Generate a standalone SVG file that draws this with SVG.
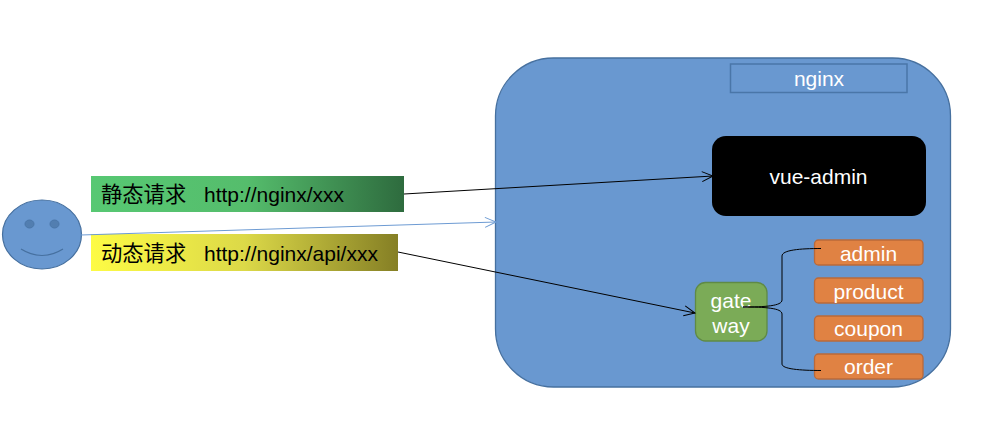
<svg xmlns="http://www.w3.org/2000/svg" width="1000" height="432" viewBox="0 0 1000 432">
<style>
text{font-family:"Liberation Sans","Noto Sans CJK SC",sans-serif;font-size:21px;text-anchor:middle;fill:#fff}
.s{fill:#e08243;stroke:#b9693a;stroke-width:1.3}
.d{fill:#000;text-anchor:start}
.z{font-size:21.300px}
.c{fill:none;stroke:#000;stroke-width:1}
</style>
<defs>
<linearGradient id="g1"><stop offset="0" stop-color="#57c873"/><stop offset=".5" stop-color="#55bd6c"/><stop offset="1" stop-color="#2e6b3e"/></linearGradient>
<linearGradient id="g2"><stop offset="0" stop-color="#fdfb45"/><stop offset=".5" stop-color="#dcd948"/><stop offset="1" stop-color="#857f25"/></linearGradient>
<marker id="a" markerUnits="userSpaceOnUse" markerWidth="14" markerHeight="14" refX="12" refY="6" orient="auto"><path d="M1 1L12 6L1 11" fill="none" stroke="#000"/></marker>
<marker id="b" markerUnits="userSpaceOnUse" markerWidth="14" markerHeight="14" refX="12" refY="6" orient="auto"><path d="M1 1L12 6L1 11" fill="none" stroke="#6d9bd3"/></marker>
</defs>
<g id="nginx-box"><rect x="495.500" y="58" width="455" height="329" rx="58" fill="#6998d0" stroke="#46709f" stroke-width="1.300"/></g>
<g id="nginx"><rect x="730.500" y="64" width="176.500" height="28.500" fill="#6998d0" stroke="#4a76a8" stroke-width="1.500"/><text x="819" y="86">nginx</text></g>
<g id="vue-admin"><rect x="712" y="136" width="214" height="80" rx="14" fill="#000"/><text x="818.500" y="184">vue-admin</text></g>
<g id="user"><ellipse cx="42" cy="234.500" rx="39.500" ry="34.500" fill="#6998d0" stroke="#46709f" stroke-width="1.200"/><ellipse cx="29.500" cy="224" rx="4.500" ry="4" fill="#527eb0" stroke="#4a76a8"/><ellipse cx="54.500" cy="224" rx="4.500" ry="4" fill="#527eb0" stroke="#4a76a8"/><path d="M21 249Q42 262 63 249" fill="none" stroke="#46709f" stroke-width="1.200"/></g>
<g id="static"><rect x="91" y="176" width="313" height="36" fill="url(#g1)"/><text class="d z" x="101" y="202">静态请求</text><text class="d" x="204" y="202">http://nginx/xxx</text></g>
<g id="dynamic"><rect x="91" y="234" width="307" height="37" fill="url(#g2)"/><text class="d z" x="101" y="261">动态请求</text><text class="d" x="204" y="261">http://nginx/api/xxx</text></g>
<g id="gateway"><rect x="695.500" y="282.500" width="71.500" height="58.500" rx="10" fill="#7bab57" stroke="#5f8a45" stroke-width="1.300"/><text x="731" y="308">gate</text><text x="731" y="333">way</text></g>
<g id="admin"><rect class="s" x="814.500" y="240" width="108.500" height="25" rx="4"/><text x="868.500" y="261">admin</text></g>
<g id="product"><rect class="s" x="814.500" y="278" width="108.500" height="25" rx="4"/><text x="868.500" y="299">product</text></g>
<g id="coupon"><rect class="s" x="814.500" y="316" width="108.500" height="25" rx="4"/><text x="868.500" y="336">coupon</text></g>
<g id="order"><rect class="s" x="814.500" y="354" width="108.500" height="25" rx="4"/><text x="868.500" y="374">order</text></g>
<g id="connectors">
<path class="c" marker-end="url(#a)" d="M404 194L713 176"/>
<path d="M81 235L496 222" fill="none" stroke="#6d9bd3" marker-end="url(#b)"/>
<path class="c" marker-end="url(#a)" d="M398 252L695 313"/>
<path class="c" stroke-width="1.200" d="M743 307C765 307 782 306 782 300V256C782 250 800 248.500 821 248.500"/>
<path class="c" stroke-width="1.200" d="M743 307C765 307 782 308 782 314V364C782 369 800 370.500 821 370.500"/>
</g>
</svg>
